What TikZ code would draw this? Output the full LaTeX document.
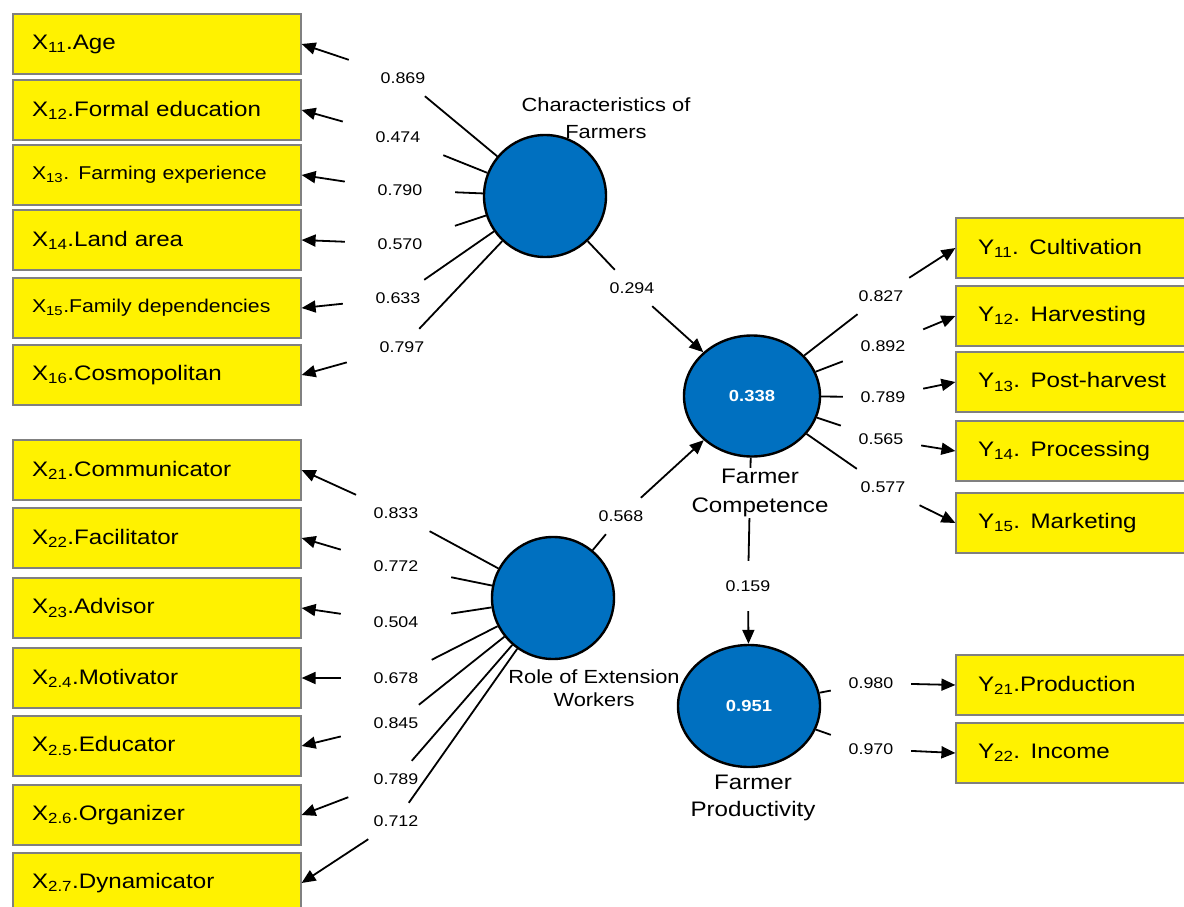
\documentclass[tikz,border=0pt]{standalone}
\usepackage{fontspec}
\setmainfont{Liberation Sans}[FakeStretch=1.15]
\usetikzlibrary{shapes.geometric,arrows.meta}
\definecolor{lvblue}{HTML}{0070C0}
\definecolor{boxgray}{HTML}{808080}
\begin{document}
\begin{tikzpicture}
[x=1pt,y=-1pt,
  indbox/.style={shape=rectangle,draw=boxgray,line width=1.2pt,fill=yellow,
    minimum height=60pt,inner ysep=0pt,align=left},
  latent/.style={shape=ellipse,draw,line width=2.4pt,fill=lvblue,inner sep=0pt,
    text=white,font=\fontsize{16}{18}\selectfont\bfseries},
  coef/.style={inner sep=0pt,minimum width=110pt,minimum height=36pt,
    font=\fontsize{15.5}{18}\selectfont},
  lvlabel/.style={align=center,inner sep=1pt},
  linedecorate/.style={line width=1.8pt,-{Triangle[length=14pt,width=12pt]}}]
\useasboundingbox (0,0) rectangle (1184,907);
\clip (0,0) rectangle (1184,907);
%% indicator boxes
\foreach \nodename/\y/\fs/\txt in {x11/44/21/{X\textsubscript{11}.Age},
  x12/110/21/{X\textsubscript{12}.Formal education},
  x13/175/18.5/{X\textsubscript{13}. Farming experience},
  x14/240/21/{X\textsubscript{14}.Land area},
  x15/308/18.5/{X\textsubscript{15}.Family dependencies},
  x16/375/21/{X\textsubscript{16}.Cosmopolitan},
  x21/470/21/{X\textsubscript{21}.Communicator},
  x22/538/21/{X\textsubscript{22}.Facilitator},
  x23/608/21/{X\textsubscript{23}.Advisor},
  x24/678/21/{X\textsubscript{2.4}.Motivator},
  x25/746/21/{X\textsubscript{2.5}.Educator},
  x26/815/21/{X\textsubscript{2.6}.Organizer},
  x27/883/21/{X\textsubscript{2.7}.Dynamicator}} {
  \node[indbox,text width=250pt,inner xsep=19pt,font=\fontsize{\fs}{24}\selectfont]
    (\nodename) at (157,\y) {\txt};
}
\foreach \nodename/\y/\txt in {y11/248/{Y\textsubscript{11}. Cultivation},
  y12/316/{Y\textsubscript{12}. Harvesting},
  y13/382/{Y\textsubscript{13}. Post-harvest},
  y14/451/{Y\textsubscript{14}. Processing},
  y15/523/{Y\textsubscript{15}. Marketing},
  y21/685/{Y\textsubscript{21}.Production},
  y22/753/{Y\textsubscript{22}. Income}} {
  \node[indbox,text width=196pt,inner xsep=22pt,font=\fontsize{21}{24}\selectfont]
    (\nodename) at (1076,\y) {\txt};
}
%% latent variables
\node[latent,minimum width=122pt,minimum height=122pt] (char) at (545,196) {};
\node[latent,minimum width=136pt,minimum height=121pt] (comp) at (752,396) {0.338};
\node[latent,minimum width=122pt,minimum height=122pt] (role) at (553,598) {};
\node[latent,minimum width=142pt,minimum height=122pt] (prod) at (749,706) {0.951};
%% loadings
\foreach \lv/\lab/\x/\y/\val/\ind in {char/l11/403/78/0.869/x11,
  char/l12/398/137/0.474/x12, char/l13/400/190/0.790/x13,
  char/l14/400/244/0.570/x14, char/l15/398/298/0.633/x15,
  char/l16/402/347/0.797/x16, role/l21/396/513/0.833/x21,
  role/l22/396/566/0.772/x22, role/l23/396/622/0.504/x23,
  role/l24/396/678/0.678/x24, role/l25/396/723/0.845/x25,
  role/l26/396/779/0.789/x26, role/l27/396/821/0.712/x27} {
  \node[coef] (\lab) at (\x,\y) {\val};
  \draw[linedecorate] (\lv) -- (\lab) -- (\ind.east);
}
\foreach \lv/\lab/\x/\y/\val/\ind in {comp/m11/881/296/0.827/y11,
  comp/m12/883/346/0.892/y12, comp/m13/883/397/0.789/y13,
  comp/m14/881/439/0.565/y14, comp/m15/883/487/0.577/y15,
  prod/m21/871/683/0.980/y21, prod/m22/871/749/0.970/y22} {
  \node[coef,minimum width=80pt] (\lab) at (\x,\y) {\val};
  \draw[linedecorate] (\lv) -- (\lab) -- (\ind.west);
}
%% paths
\node[coef] (p294) at (632,288) {0.294};
\node[coef] (p568) at (621,516) {0.568};
\node[coef,minimum height=50pt] (p159) at (748,586) {0.159};
\draw[linedecorate] (char) -- (p294) -- (comp);
\draw[linedecorate] (role) -- (p568) -- (comp);
\draw[linedecorate] (comp) -- (p159) -- (prod);
%% latent labels
\node[lvlabel,font=\fontsize{19}{27}\selectfont] (charlab) at (606,118)
  {Characteristics of\\Farmers};
\node[lvlabel,fill=white,font=\fontsize{21}{29}\selectfont] (complab) at (760,493)
  {Farmer\\Competence};
\node[lvlabel,font=\fontsize{19}{23}\selectfont] (rolelab) at (594,688)
  {Role of Extension\\Workers};
\node[lvlabel,font=\fontsize{21}{27}\selectfont] (prodlab) at (753,798)
  {Farmer\\Productivity};
\end{tikzpicture}
\end{document}
